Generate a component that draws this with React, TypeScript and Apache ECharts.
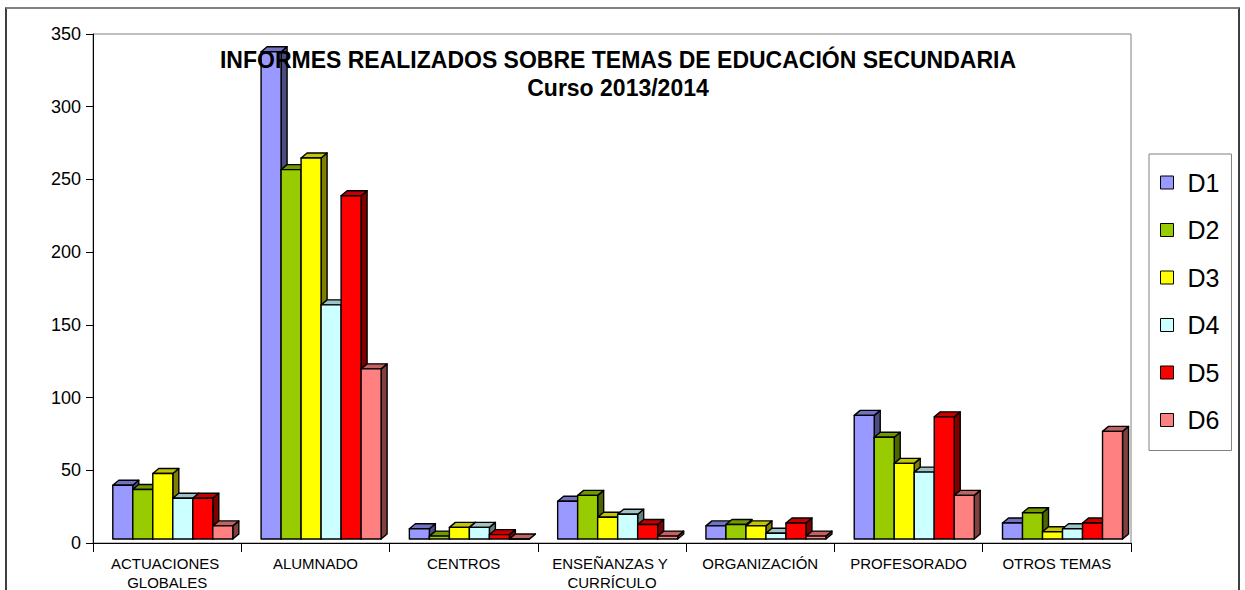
import React, { useEffect, useRef } from "react";
import * as echarts from "echarts";

const categories = [
  "ACTUACIONES GLOBALES",
  "ALUMNADO",
  "CENTROS",
  "ENSEÑANZAS Y CURRÍCULO",
  "ORGANIZACIÓN",
  "PROFESORADO",
  "OTROS TEMAS",
];
const seriesNames = ["D1", "D2", "D3", "D4", "D5", "D6"];
const d1 = [37, 335, 7, 26, 9, 85, 11];
const d2 = [34, 254, 2, 30, 10, 70, 18];
const d3 = [45, 262, 8, 15, 9, 52, 5];
const d4 = [28, 161, 8, 17, 4, 46, 7];
const d5 = [28, 236, 3, 10, 11, 84, 11];
const d6 = [9, 117, 0, 2, 2, 30, 74];
const seriesValues = [d1, d2, d3, d4, d5, d6];
const yMin = 0;
const yMax = 350;
const yInterval = 50;
const titleLines = ["INFORMES REALIZADOS SOBRE TEMAS DE EDUCACIÓN SECUNDARIA", "Curso 2013/2014"];

const frontColors = ["#9999FF", "#99CC00", "#FFFF00", "#CCFFFF", "#FF0000", "#FF8080"];
const topColors = ["#7272C4", "#739900", "#C4C400", "#9CC4C4", "#C40000", "#C46262"];
const sideColors = ["#4C4C80", "#4C6600", "#808000", "#668080", "#800000", "#804040"];

const FONT = "'Liberation Sans', Arial, Helvetica, sans-serif";
const DX = 6;
const DY = 5;
const LIFT = 4;

export default function App() {
  const ref = useRef<HTMLDivElement>(null);
  useEffect(() => {
    if (!ref.current) return;
    const chart = echarts.init(ref.current, null, { renderer: "svg" });

    const renderItem = (params: any, api: any) => {
      const si = params.seriesIndex;
      const cat = api.value(0);
      const v = api.value(1);
      const base = api.coord([cat, 0]);
      const top = api.coord([cat, v]);
      const bw = api.size([1, 0])[0];
      const barW = bw * 0.1349;
      const x0 = base[0] - bw / 2 + bw * 0.1335 + si * barW;
      const x1 = x0 + barW;
      const yb = base[1] - LIFT;
      const yt = top[1] - LIFT;
      const stroke = { stroke: "#000", lineWidth: 1.4, lineJoin: "round" };
      return {
        type: "group",
        children: [
          {
            type: "polygon",
            z2: si * 3,
            shape: { points: [[x1, yt], [x1 + DX, yt - DY], [x1 + DX, yb - DY], [x1, yb]] },
            style: { fill: sideColors[si], ...stroke },
          },
          {
            type: "polygon",
            z2: si * 3 + 1,
            shape: { points: [[x0, yt], [x1, yt], [x1 + DX, yt - DY], [x0 + DX, yt - DY]] },
            style: { fill: topColors[si], ...stroke },
          },
          {
            type: "rect",
            z2: si * 3 + 2,
            shape: { x: x0, y: yt, width: barW, height: yb - yt },
            style: { fill: frontColors[si], ...stroke },
          },
        ],
      };
    };

    const option: any = {
      animation: false,
      backgroundColor: "#fff",
      textStyle: { fontFamily: FONT },
      grid: {
        left: 93,
        right: 114,
        top: 34,
        bottom: 47,
        show: true,
        borderColor: "#808080",
        borderWidth: 1,
        backgroundColor: "transparent",
        containLabel: false,
        outerBoundsMode: "none",
      },
      xAxis: {
        type: "category",
        data: categories,
        boundaryGap: true,
        axisLine: { show: true, lineStyle: { color: "#000", width: 1 } },
        axisTick: { show: true, length: 9, interval: 0, lineStyle: { color: "#000" } },
        axisLabel: {
          interval: 0,
          color: "#000",
          fontSize: 15,
          fontFamily: FONT,
          lineHeight: 19,
          margin: 11,
          width: 140,
          overflow: "break",
        },
        splitLine: { show: false },
      },
      yAxis: {
        type: "value",
        min: yMin,
        max: yMax,
        interval: yInterval,
        axisLine: { show: true, lineStyle: { color: "#000", width: 1 } },
        axisTick: { show: true, length: 7, lineStyle: { color: "#000" } },
        axisLabel: { color: "#000", fontSize: 18, fontFamily: FONT, margin: 12 },
        splitLine: { show: false },
      },
      legend: {
        orient: "vertical",
        left: 1149,
        top: 154,
        data: seriesNames,
        icon: "rect",
        itemWidth: 13,
        itemHeight: 13,
        itemGap: 22.5,
        padding: [16, 12, 18, 11],
        backgroundColor: "#fff",
        borderColor: "#808080",
        borderWidth: 1,
        itemStyle: { borderColor: "#000", borderWidth: 1 },
        textStyle: { fontSize: 25, lineHeight: 25, color: "#000", fontFamily: FONT, padding: [0, 0, 0, 9] },
        selectedMode: false,
      },
      series: seriesNames.map((name, si) => ({
        type: "custom",
        name,
        renderItem,
        itemStyle: { color: frontColors[si], borderColor: "#000", borderWidth: 1 },
        encode: { x: 0, y: 1 },
        data: seriesValues[si].map((v, i) => [i, v]),
        z: 2,
      })),
      graphic: [
        {
          type: "rect",
          z: 0,
          silent: true,
          shape: { x: 6, y: 8, width: 1233, height: 600 },
          style: { fill: "none", stroke: "#000", lineWidth: 1.5 },
        },
        {
          type: "line",
          z: 1,
          silent: true,
          shape: { x1: 6, y1: 8, x2: 1239, y2: 8 },
          style: { stroke: "#808080", lineWidth: 2 },
        },
        {
          type: "text",
          z: 100,
          x: 618,
          y: 60,
          style: {
            text: titleLines[0],
            fontSize: 23,
            fontWeight: "bold",
            fontFamily: FONT,
            fill: "#000",
            align: "center",
            verticalAlign: "middle",
          },
        },
        {
          type: "text",
          z: 100,
          x: 618,
          y: 87.5,
          style: {
            text: titleLines[1],
            fontSize: 23,
            fontWeight: "bold",
            fontFamily: FONT,
            fill: "#000",
            align: "center",
            verticalAlign: "middle",
          },
        },
      ],
    };
    chart.setOption(option);
    return () => chart.dispose();
  }, []);
  return (
    <div
      ref={ref}
      style={{ position: "absolute", left: 0, top: 0, width: 1245, height: 590 }}
    />
  );
}
